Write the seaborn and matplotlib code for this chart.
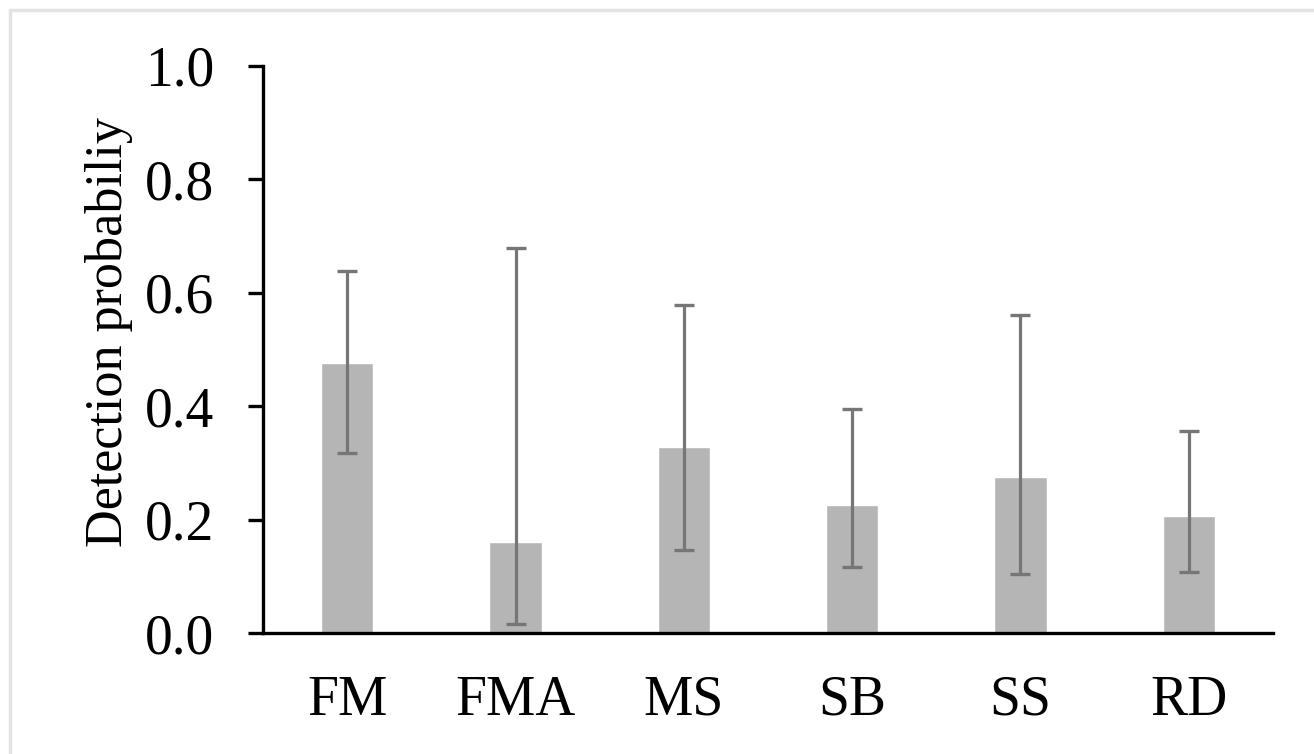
import matplotlib
matplotlib.use("Agg")
import matplotlib.pyplot as plt
import seaborn as sns
import numpy as np
from matplotlib.lines import Line2D

# Detection probability per habitat
categories = ["FM", "FMA", "MS", "SB", "SS", "RD"]
estimates = [0.476, 0.160, 0.328, 0.226, 0.276, 0.206]
lower_ci = [0.317, 0.016, 0.147, 0.116, 0.104, 0.108]
upper_ci = [0.638, 0.678, 0.579, 0.396, 0.560, 0.357]
y_ticks = [0.0, 0.2, 0.4, 0.6, 0.8, 1.0]

sns.set_style("white")
plt.rcParams["font.family"] = ["Liberation Serif", "DejaVu Serif"]
plt.rcParams["text.color"] = "black"
plt.rcParams["xtick.color"] = "black"
plt.rcParams["ytick.color"] = "black"
SERIF = ["Liberation Serif", "DejaVu Serif"]

W, H = 1314, 754
fig = plt.figure(figsize=(W / 100, H / 100), dpi=100)
ax = fig.add_axes([263 / W, 1 - 633.3 / H, (1273 - 263) / W, (633.3 - 65.7) / H])

sns.barplot(x=categories, y=estimates, color="#b5b5b5", saturation=1,
            width=0.31, errorbar=None, ax=ax)

# asymmetric confidence intervals drawn on top of the bars
yerr = np.array([np.array(estimates) - np.array(lower_ci),
                 np.array(upper_ci) - np.array(estimates)])
ax.errorbar(np.arange(len(categories)), estimates, yerr=yerr, fmt="none",
            ecolor="#767676", elinewidth=2.3, capsize=7.5, capthick=2.4, zorder=3)

ax.set_xlim(-0.5, len(categories) - 0.5)
ax.set_ylim(0, 1.0)
ax.set_yticks(y_ticks)
ax.set_yticklabels([f"{t:.1f}" for t in y_ticks], family=SERIF, color="black")
ax.set_xticks(range(len(categories)))
ax.set_xticklabels(categories, family=SERIF, color="black")

for side in ["top", "right"]:
    ax.spines[side].set_visible(False)
for side in ["left", "bottom"]:
    ax.spines[side].set_color("black")
    ax.spines[side].set_linewidth(2.4)

ax.tick_params(axis="y", length=11, width=2.4, color="black", pad=24,
               labelsize=40, left=True)
ax.tick_params(axis="x", length=0, pad=30, labelsize=40)
ax.set_xlabel("")
ax.set_ylabel("")

fig.text(109 / W, 1 - 332 / H, "Detection probabiliy", rotation=90,
         ha="center", va="center", fontsize=37.5, family=SERIF, color="black")

# light frame along the top and left edges
fig.add_artist(Line2D([10 / W, 1], [1 - 10 / H, 1 - 10 / H], color="#e3e3e3",
                      lw=2.5, transform=fig.transFigure))
fig.add_artist(Line2D([10 / W, 10 / W], [0, 1 - 10 / H], color="#e3e3e3",
                      lw=2.5, transform=fig.transFigure))

fig.savefig("out.png", dpi=100)
